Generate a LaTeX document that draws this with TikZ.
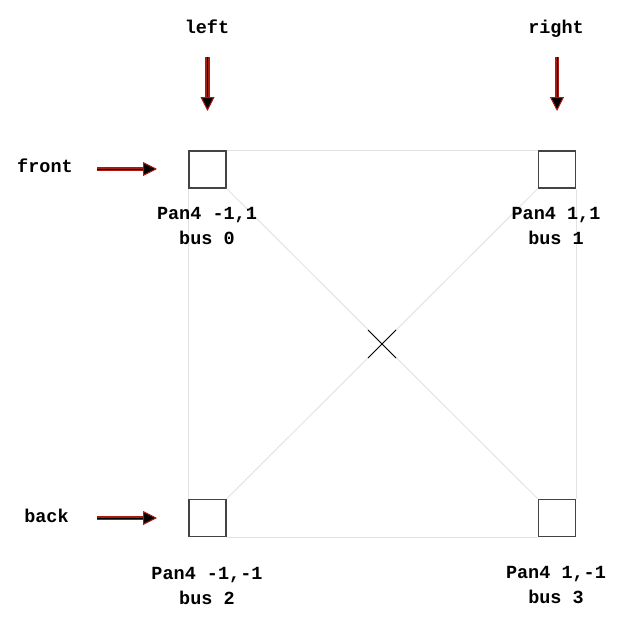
\documentclass[tikz,border=0pt]{standalone}
\usepackage{fontspec}
\setmainfont{Liberation Mono}
\usetikzlibrary{arrows.meta,shapes.misc}
\definecolor{arrowred}{HTML}{A81A12}
\definecolor{framegray}{HTML}{E3E3E3}
\definecolor{boxgray}{HTML}{444444}
\begin{document}
\begin{tikzpicture}[x=1pt,y=-1pt,
  panbox/.style={draw=boxgray, line width=1.3pt, minimum size=37pt, inner sep=0pt, fill=white},
  frame/.style={draw=framegray, line width=1pt},
  txt/.style={font=\fontsize{18.5}{25}\selectfont\bfseries, inner sep=0pt, align=center},
  dirtxt/.style={txt, anchor=base},
  bigarrow/.style={draw=arrowred, line width=4.2pt,
    -{Triangle[length=14pt,width=14pt,fill=black,line width=1pt]},
    postaction={draw=black, line width=1pt, shorten >=14pt, -}},
  centermark/.style={cross out, draw=black, line width=1pt, minimum size=27pt, inner sep=0pt}
]
\useasboundingbox (0,0) rectangle (624,626);
% squares
\node[panbox] (s0) at (207.5,169.5) {};
\node[panbox] (s1) at (557,169.5) {};
\node[panbox] (s2) at (207.5,518) {};
\node[panbox] (s3) at (557,518) {};
% frame
\draw[frame] (s0.north east) -- (s1.north west);
\draw[frame] (s0.south west) -- (s2.north west);
\draw[frame] (s1.south east) -- (s3.north east);
\draw[frame] (s2.south east) -- (s3.south west);
\draw[frame] (s0.south east) -- (s3.north west);
\draw[frame] (s1.south west) -- (s2.north east);
\node[centermark] (c) at (382,344) {};
% labels under squares
\node[txt] (l0) at (207,226) {Pan4 -1,1\\bus 0};
\node[txt] (l1) at (556,226) {Pan4 1,1\\bus 1};
\node[txt] (l2) at (207,585.5) {Pan4 -1,-1\\bus 2};
\node[txt] (l3) at (556,585.5) {Pan4 1,-1\\bus 3};
% direction labels
\node[dirtxt] (tl) at (207,33.5) {left};
\node[dirtxt] (tr) at (556,33.5) {right};
\node[dirtxt] (tf) at (45,172.5) {front};
\node[dirtxt] (tb) at (46.5,522.5) {back};
% arrows
\coordinate (al0) at (207.5,57);
\coordinate (al1) at (207.5,111);
\coordinate (ar0) at (557,57);
\coordinate (ar1) at (557,111);
\coordinate (af0) at (97,169);
\coordinate (af1) at (157,169);
\coordinate (ab0) at (97,518);
\coordinate (ab1) at (157,518);
\draw[bigarrow] (al0) -- (al1);
\draw[bigarrow] (ar0) -- (ar1);
\draw[bigarrow] (af0) -- (af1);
\draw[bigarrow] (ab0) -- (ab1);
\end{tikzpicture}
\end{document}
